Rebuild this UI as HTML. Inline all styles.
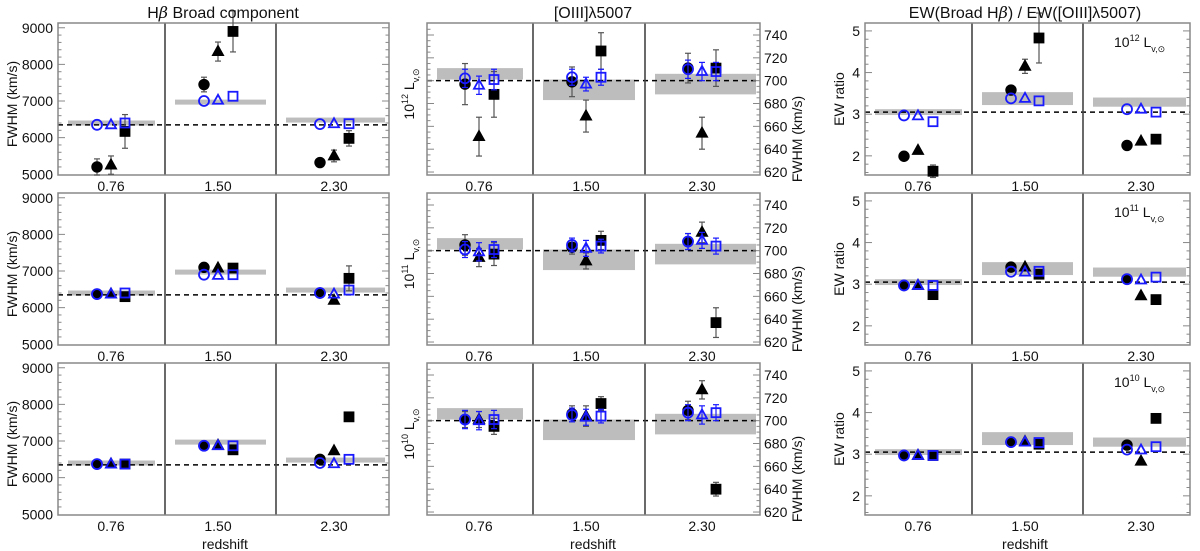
<!DOCTYPE html>
<html><head><meta charset="utf-8"><style>
html,body{margin:0;padding:0;background:#fff;width:1200px;height:551px;overflow:hidden}
svg{display:block;font-family:"Liberation Sans","DejaVu Sans",sans-serif}
</style></head><body>
<svg id="chart" width="1200" height="551" viewBox="0 0 1200 551" xmlns="http://www.w3.org/2000/svg"></svg>
<script>
// ---- data ----
const categories = ["0.76","1.50","2.30"];
const rowLabels = ["12","11","10"];
// Hbeta broad FWHM [row][group][circle,triangle,square]
const hbBlack = [[[5200,5250,6170],[7450,8350,8900],[5320,5500,5980]],
                 [[6370,6370,6300],[7100,7080,7080],[6400,6200,6800]],
                 [[6370,6370,6370],[6870,6880,6760],[6500,6730,7660]]];
const hbBlackErr = [[[220,250,460],[200,260,560],[100,160,210]],
                    [[0,0,0],[0,0,0],[0,0,340]],
                    [[0,0,0],[0,0,0],[0,0,0]]];
const hbBlue = [[[6350,6350,6400],[7000,7020,7130],[6370,6380,6380]],
                [[6370,6370,6400],[6900,6880,6900],[6400,6370,6480]],
                [[6370,6370,6370],[6870,6870,6870],[6400,6380,6500]]];
const hbBand = [[6400,6400],[6970,6970],[6480,6480]];
const hbRef = 6350;
// [OIII] FWHM
const oBlack = [[[697,651,688],[699,669,726],[711,654,711]],
                [[705,694,697],[703,691,709],[708,716,637]],
                [[701,701,695],[706,704,715],[709,727,640]]];
const oBlackErr = [[[18,17,20],[13,14,16],[13,14,16]],
                   [[9,8,10],[6,7,8],[7,9,13]],
                   [[7,7,7],[7,9,6],[8,8,6]]];
const oBlue = [[[702,696,701],[703,697,703],[710,708,708]],
               [[701,699,701],[705,702,704],[708,709,704]],
               [[701,700,701],[705,703,704],[707,705,707]]];
const oBlueErr = [[[8,8,9],[7,6,7],[8,8,8]],
                  [[7,8,7],[6,7,6],[7,7,7]],
                  [[8,8,8],[6,7,6],[7,8,7]]];
const oBand = [[701,711],[683,701],[688,706]];
const oRef = 700;
// EW ratio
const ewBlack = [[[1.99,2.13,1.63],[3.58,4.15,4.83],[2.25,2.35,2.40]],
                 [[2.97,2.97,2.75],[3.41,3.41,3.24],[3.12,2.72,2.63]],
                 [[2.97,2.97,2.97],[3.29,3.30,3.24],[3.22,2.83,3.86]]];
const ewBlackErr = [[[0,0,0.15],[0.1,0.17,0.6],[0,0,0.05]],
                    [[0,0,0],[0,0,0],[0,0,0]],
                    [[0,0,0],[0,0,0],[0,0,0]]];
const ewBlue = [[[2.97,2.96,2.82],[3.38,3.38,3.32],[3.12,3.12,3.05]],
                [[2.97,2.97,2.97],[3.30,3.29,3.31],[3.12,3.10,3.17]],
                [[2.97,2.97,2.97],[3.29,3.29,3.28],[3.11,3.10,3.18]]];
const ewBand = [[2.98,3.12],[3.22,3.53],[3.18,3.40]];
const ewRef = 3.05;
const hbTicks = [5000,6000,7000,8000,9000];
const oTicks = [620,640,660,680,700,720,740];
const ewTicks = [2,3,4,5];

// ---- drawing ----
const svg = document.getElementById('chart');
const NS = 'http://www.w3.org/2000/svg';
function mk(tag, attrs, parent){
  const e = document.createElementNS(NS, tag);
  for (const k in attrs) e.setAttribute(k, attrs[k]);
  (parent||svg).appendChild(e);
  return e;
}
function txt(x,y,s,size,anchor,parent){
  const t = mk('text',{x:x,y:y,'font-size':size,'text-anchor':anchor||'middle',fill:'#111'},parent);
  t.textContent = s;
  return t;
}
const ROWTOP = [23,193,363];
const PH = 152;

function marker(g, shape, x, y, filled, col){
  let e;
  const f = filled ? col : 'none';
  if (shape===0) e = mk('circle',{cx:x,cy:y,r:filled?4.8:5,fill:f,stroke:col,'stroke-width':1.8},g);
  else if (shape===1) e = mk('polygon',{points:`${x},${y-5.5} ${x-5},${y+3.5} ${x+5},${y+3.5}`,fill:f,stroke:col,'stroke-width':1.8},g);
  else e = mk('rect',{x:x-4.5,y:y-4.5,width:9,height:9,fill:f,stroke:col,'stroke-width':1.8},g);
  return e;
}
function errbar(g,x,y1,y2,col){
  mk('line',{x1:x,y1:y1,x2:x,y2:y2,stroke:col,'stroke-width':1.2},g);
  mk('line',{x1:x-3,y1:y1,x2:x+3,y2:y1,stroke:col,'stroke-width':1.2},g);
  mk('line',{x1:x-3,y1:y2,x2:x+3,y2:y2,stroke:col,'stroke-width':1.2},g);
}

function drawPanel(cfg, r){
  const top = ROWTOP[r], bot = top+PH;
  const y = v => top + (cfg.dmax - v)/(cfg.dmax-cfg.dmin)*PH;
  const g = mk('g',{});
  
  
  categories.forEach((c,gi)=>{
    const x0 = cfg.bounds[gi]+10, x1 = cfg.bounds[gi+1]-(gi==2?4:10);
    const b = cfg.band[gi];
    let e;
    if (cfg.bandLine) e = mk('rect',{x:x0,y:y(b[0])-2.5,width:x1-x0,height:5,fill:'#bdbdbd'},g);
    else e = mk('rect',{x:x0,y:y(b[1]),width:x1-x0,height:y(b[0])-y(b[1]),fill:'#bdbdbd'},g);
    
    
  });
  const rl = mk('line',{x1:cfg.bounds[0],y1:y(cfg.ref),x2:cfg.bounds[3],y2:y(cfg.ref),stroke:'#000','stroke-width':1.5,'stroke-dasharray':'5,4'},g);
  
  
  [1,2].forEach(i=>{
    const d = mk('line',{x1:cfg.bounds[i],y1:top,x2:cfg.bounds[i],y2:bot,stroke:'#444','stroke-width':1.6},g);
    
    
  });
  const fr = mk('rect',{x:cfg.bounds[0],y:top,width:cfg.bounds[3]-cfg.bounds[0],height:PH,fill:'none',stroke:'#888','stroke-width':1.5},g);
  
  
  for (let v=cfg.minorStart; v<=cfg.dmax+1e-9; v+=cfg.minor){
    const yy = y(v);
    if (yy<top+1||yy>bot-1) continue;
    const isMaj = cfg.ticks.some(t=>Math.abs(t-v)<1e-6);
    const L = isMaj?7:3.5;
    mk('line',{x1:cfg.bounds[0],y1:yy,x2:cfg.bounds[0]+L,y2:yy,stroke:'#888','stroke-width':1},g);
    mk('line',{x1:cfg.bounds[3],y1:yy,x2:cfg.bounds[3]-L,y2:yy,stroke:'#888','stroke-width':1},g);
  }
  cfg.ticks.forEach(t=>{
    const e = cfg.rightAxis ? txt(cfg.bounds[3]+4,y(t)+5,String(t),14,'start',g) : txt(cfg.bounds[0]-5,y(t)+5,String(t),14,'end',g);
    
    
  });
  categories.forEach((c,gi)=>{
    const e = txt(cfg.bounds[gi]+cfg.labOff[gi], bot+16, c, 14,'middle',g);
    
    
  });
  categories.forEach((c,gi)=>{
    for (let m=0;m<3;m++){
      const x = cfg.bounds[gi]+cfg.offs[gi][m];
      const bv = cfg.black[r][gi][m];
      const be = cfg.blackErr[r][gi][m];
      if (be>0) errbar(g,x,y(bv+be),y(bv-be),'#555');
      const mb = marker(g,m,x,y(bv),true,'#000');
      
      
    }
    for (let m=0;m<3;m++){
      const x = cfg.bounds[gi]+cfg.offs[gi][m];
      const uv = cfg.blue[r][gi][m];
      const ue = cfg.blueErr ? cfg.blueErr[r][gi][m] : 0;
      if (ue>0) errbar(g,x,y(uv+ue),y(uv-ue),'#1a1aff');
      const mu = marker(g,m,x,y(uv),false,'#1a1aff');
      
      
    }
  });
  if (cfg.name==='hbeta'){
    const t = txt(0,0,'FWHM (km/s)',14,'middle',g);
    t.setAttribute('transform',`translate(17,${top+PH/2+5}) rotate(-90)`);
    
    
  }
  if (cfg.name==='oiii'){
    const t = mk('text',{'font-size':14,'text-anchor':'middle',fill:'#111',transform:`translate(414,${top+PH/2-5}) rotate(-90)`},g);
    t.innerHTML = `10<tspan font-size="9" dy="-6">${rowLabels[r]}</tspan><tspan dy="6"> L</tspan><tspan font-size="9" dy="5">v,⊙</tspan>`;
    
    
    const t2 = txt(0,0,'FWHM (km/s)',14,'middle',g);
    t2.setAttribute('transform',`translate(802,${top+PH/2+40}) rotate(-90)`);
    
    
  }
  if (cfg.name==='ew'){
    const t = txt(0,0,'EW ratio',14,'middle',g);
    t.setAttribute('transform',`translate(844,${top+PH/2}) rotate(-90)`);
    
    
    const l = mk('text',{x:1114,y:top+24,'font-size':14,'text-anchor':'start',fill:'#111'},g);
    l.innerHTML = `10<tspan font-size="9" dy="-6">${rowLabels[r]}</tspan><tspan dy="6"> L</tspan><tspan font-size="9" dy="5">v,⊙</tspan>`;
    
    
  }
}

const cfgs = [
  {name:'hbeta',bounds:[58,165,276,389],offs:[[39,53,67],[39,53,68],[44,58,73]],labOff:[53,53,58],
   dmin:4980,dmax:9130,ticks:hbTicks,minor:200,minorStart:5000,black:hbBlack,blackErr:hbBlackErr,blue:hbBlue,band:hbBand,bandLine:true,ref:hbRef},
  {name:'oiii',bounds:[427,533,645,760],offs:[[38,52,67],[39,53,68],[43,57,71]],labOff:[52,53,57],
   dmin:617.4,dmax:750.5,ticks:oTicks,minor:5,minorStart:620,black:oBlack,blackErr:oBlackErr,blue:oBlue,blueErr:oBlueErr,band:oBand,ref:oRef,rightAxis:true},
  {name:'ew',bounds:[865,972,1083,1190],offs:[[39,53,68],[39,53,67],[44,58,73]],labOff:[53,53,58],
   dmin:1.54,dmax:5.19,ticks:ewTicks,minor:0.2,minorStart:1.6,black:ewBlack,blackErr:ewBlackErr,blue:ewBlue,band:ewBand,ref:ewRef}
];
cfgs.forEach(c=>{for(let r=0;r<3;r++) drawPanel(c,r);});

const t1 = mk('text',{x:223,y:18,'font-size':16,'text-anchor':'middle',fill:'#111'});
t1.innerHTML = 'H<tspan font-family="DejaVu Serif" font-style="italic">β</tspan> Broad component';


const t2 = txt(593,18,'[OIII]λ5007',16);


const t3 = mk('text',{x:1025,y:18,'font-size':16,'text-anchor':'middle',fill:'#111'});
t3.innerHTML = 'EW(Broad H<tspan font-family="DejaVu Serif" font-style="italic">β</tspan>) / EW([OIII]λ5007)';


[[225,'redshift-label-left'],[593,'redshift-label-middle'],[1025,'redshift-label-right']].forEach(a=>{
  const e = txt(a[0],549,'redshift',14);
  
  
});
</script>
</body></html>
